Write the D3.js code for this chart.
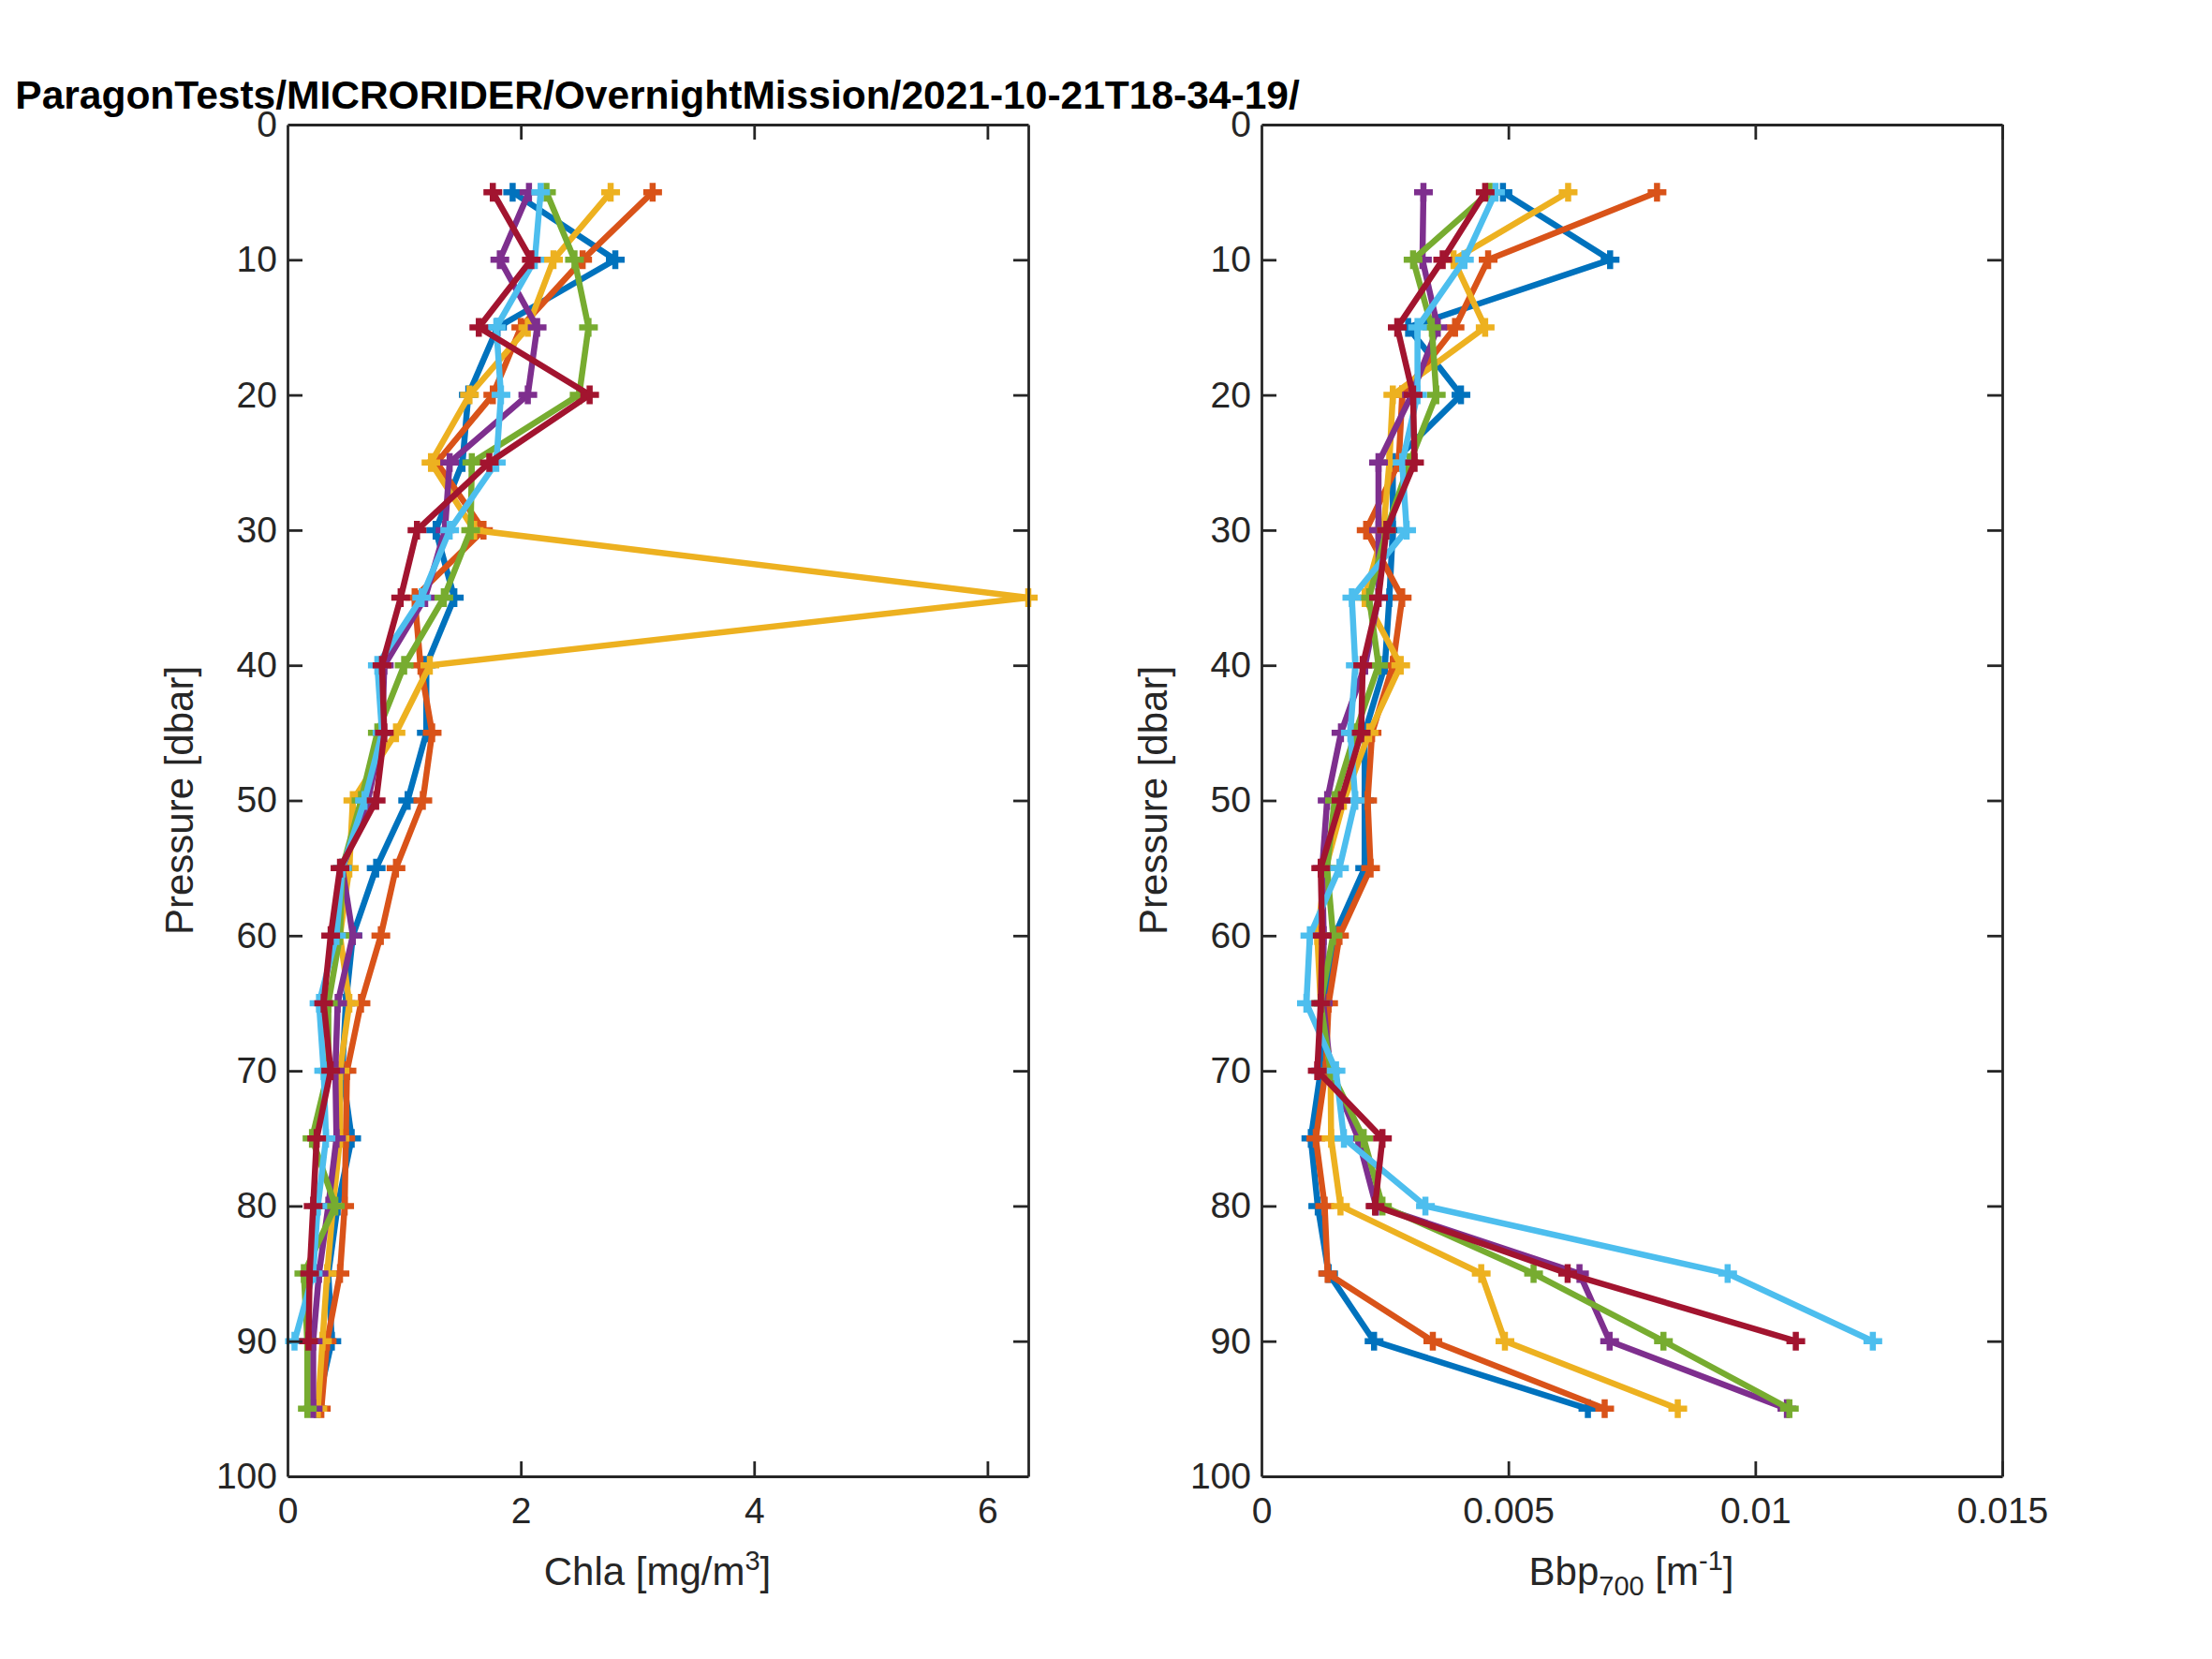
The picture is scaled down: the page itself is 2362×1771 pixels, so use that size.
<!DOCTYPE html>
<html>
<head>
<meta charset="utf-8">
<script src="https://cdn.jsdelivr.net/npm/d3@7"></script>
<style>
  body { margin: 0; background: #fff; }
  text { font-family: "Liberation Sans", Arial, Helvetica, sans-serif; fill: #262626; }
</style>
</head>
<body>
<div id="chart"></div>
<script>
// Pressure levels (dbar)
const depths = [5, 10, 15, 20, 25, 30, 35, 40, 45, 50, 55, 60, 65, 70, 75, 80, 85, 90, 95];

// Series colours (MATLAB default order)
const seriesColors = ["#0072BD", "#D95319", "#EDB120", "#7E2F8E", "#77AC30", "#4DBEEE", "#A2142F"];

// Chla [mg/m3] per profile
const chlaBlue     = [1.93, 2.81, 1.80, 1.55, 1.50, 1.27, 1.43, 1.19, 1.19, 1.03, 0.76, 0.56, 0.50, 0.47, 0.55, 0.43, 0.35, 0.38, 0.25];
const chlaOrange   = [3.13, 2.53, 2.00, 1.76, 1.28, 1.68, 1.09, 1.14, 1.24, 1.16, 0.93, 0.80, 0.63, 0.51, 0.50, 0.49, 0.45, 0.34, 0.29];
const chlaYellow   = [2.77, 2.28, 2.06, 1.56, 1.23, 1.60, 6.35, 1.22, 0.93, 0.56, 0.53, 0.45, 0.53, 0.45, 0.45, 0.39, 0.34, 0.30, 0.26];
const chlaPurple   = [2.07, 1.82, 2.14, 2.06, 1.39, 1.35, 1.18, 0.83, 0.81, 0.69, 0.47, 0.56, 0.43, 0.41, 0.42, 0.35, 0.27, 0.22, 0.22];
const chlaGreen    = [2.22, 2.46, 2.58, 2.50, 1.58, 1.57, 1.34, 1.00, 0.77, 0.63, 0.47, 0.45, 0.35, 0.35, 0.21, 0.41, 0.14, 0.17, 0.17];
const chlaLightBlue = [2.17, 2.12, 1.79, 1.83, 1.79, 1.39, 1.15, 0.77, 0.81, 0.66, 0.47, 0.42, 0.27, 0.31, 0.33, 0.26, 0.22, 0.06];
const chlaDarkRed  = [1.76, 2.09, 1.64, 2.59, 1.73, 1.11, 0.97, 0.81, 0.83, 0.76, 0.45, 0.37, 0.31, 0.37, 0.25, 0.22, 0.19, 0.18];

// Bbp700 [1/m] per profile
const bbpBlue      = [0.00489, 0.00706, 0.00297, 0.00404, 0.00266, 0.00266, 0.00259, 0.00250, 0.00209, 0.00209, 0.00209, 0.00148, 0.00125, 0.00120, 0.00100, 0.00114, 0.00136, 0.00228, 0.00661];
const bbpOrange    = [0.00801, 0.00459, 0.00392, 0.00285, 0.00278, 0.00212, 0.00285, 0.00266, 0.00224, 0.00215, 0.00221, 0.00158, 0.00136, 0.00130, 0.00110, 0.00128, 0.00134, 0.00347, 0.00695];
const bbpYellow    = [0.00621, 0.00389, 0.00453, 0.00266, 0.00259, 0.00247, 0.00209, 0.00282, 0.00218, 0.00167, 0.00130, 0.00113, 0.00120, 0.00140, 0.00141, 0.00160, 0.00445, 0.00493, 0.00843];
const bbpPurple    = [0.00328, 0.00326, 0.00357, 0.00304, 0.00237, 0.00237, 0.00237, 0.00210, 0.00161, 0.00133, 0.00123, 0.00126, 0.00125, 0.00140, 0.00196, 0.00232, 0.00644, 0.00705, 0.01064];
const bbpGreen     = [0.00462, 0.00307, 0.00345, 0.00354, 0.00300, 0.00253, 0.00218, 0.00237, 0.00190, 0.00148, 0.00133, 0.00145, 0.00120, 0.00140, 0.00207, 0.00245, 0.00551, 0.00814, 0.01069];
const bbpLightBlue = [0.00474, 0.00411, 0.00316, 0.00316, 0.00285, 0.00294, 0.00183, 0.00190, 0.00180, 0.00190, 0.00158, 0.00098, 0.00091, 0.00151, 0.00167, 0.00332, 0.00944, 0.01238];
const bbpDarkRed   = [0.00453, 0.00367, 0.00275, 0.00307, 0.00310, 0.00253, 0.00237, 0.00205, 0.00202, 0.00161, 0.00120, 0.00123, 0.00120, 0.00113, 0.00245, 0.00230, 0.00620, 0.01082];

const chlaSeries = [chlaBlue, chlaOrange, chlaYellow, chlaPurple, chlaGreen, chlaLightBlue, chlaDarkRed];
const bbpSeries = [bbpBlue, bbpOrange, bbpYellow, bbpPurple, bbpGreen, bbpLightBlue, bbpDarkRed];

// Tick values
const pressureTicks = [0, 10, 20, 30, 40, 50, 60, 70, 80, 90, 100];
const chlaTicks = [0, 2, 4, 6];
const bbpTicks = [0, 0.005, 0.01, 0.015];

const titleText = "ParagonTests/MICRORIDER/OvernightMission/2021-10-21T18-34-19/";

// Figure size
const W = 2362, H = 1771;
const plotTop = 133, plotBottom = 1576;
const axColor = "#262626";

const svg = d3.select("#chart")
  .append("svg")
    .attr("width", W)
    .attr("height", H);

svg.append("rect").attr("width", W).attr("height", H).attr("fill", "#fff");

const y = d3.scaleLinear()
  .domain([0, 100])
  .range([plotTop, plotBottom]);

function drawPanel(left, right, series, xDomain, xTicks, xFormat) {
  const x = d3.scaleLinear().domain(xDomain).range([left, right]);
  const g = svg.append("g");

  // Profiles: line then '+' markers, one series at a time
  series.forEach((vals, i) => {
    const pts = vals.map((v, k) => [v, depths[k]]);
    const line = d3.line().x(d => x(d[0])).y(d => y(d[1]));
    const s = g.append("g")
      .attr("stroke", seriesColors[i])
      .attr("fill", "none")
      .attr("stroke-width", 6.5);
    s.append("path")
      .attr("d", line(pts))
      .attr("stroke-linejoin", "round");
    s.selectAll("path.marker")
      .data(pts)
      .join("path")
        .attr("class", "marker")
        .attr("d", "M-10,0H10M0,-10V10")
        .attr("transform", d => `translate(${x(d[0])},${y(d[1])})`);
  });

  // Axes with inward ticks on all four sides (box on)
  const tick = 16;
  const axB = g.append("g")
    .attr("transform", `translate(0,${plotBottom})`)
    .call(d3.axisBottom(x).tickValues(xTicks).tickFormat(xFormat).tickSize(-tick).tickSizeOuter(0).tickPadding(22));
  const axT = g.append("g")
    .attr("transform", `translate(0,${plotTop})`)
    .call(d3.axisTop(x).tickValues(xTicks).tickFormat("").tickSize(-tick).tickSizeOuter(0));
  const axL = g.append("g")
    .attr("transform", `translate(${left},0)`)
    .call(d3.axisLeft(y).tickValues(pressureTicks).tickSize(-tick).tickSizeOuter(0).tickPadding(11));
  const axR = g.append("g")
    .attr("transform", `translate(${right},0)`)
    .call(d3.axisRight(y).tickValues(pressureTicks).tickFormat("").tickSize(-tick).tickSizeOuter(0));

  [axB, axT, axL, axR].forEach(a => {
    a.select(".domain").attr("stroke", axColor).attr("stroke-width", 2.8);
    a.selectAll(".tick line").attr("stroke", axColor).attr("stroke-width", 2.8);
    a.selectAll(".tick text")
      .attr("fill", axColor)
      .style("font-family", "'Liberation Sans', Arial, Helvetica, sans-serif")
      .style("font-size", "39px");
  });
  // hide ticks sitting on the box corners
  [axB, axT].forEach(a => a.selectAll(".tick line").filter(d => d === xDomain[0]).remove());
  [axL, axR].forEach(a => a.selectAll(".tick line").filter(d => d === 0 || d === 100).remove());

  // y label
  svg.append("text")
    .attr("transform", `translate(${left - 101},${(plotTop + plotBottom) / 2}) rotate(-90)`)
    .attr("text-anchor", "middle")
    .style("font-size", "42px")
    .text("Pressure [dbar]");

  return x;
}

const chlaMax = d3.max(chlaSeries, s => d3.max(s));
drawPanel(307, 1098, chlaSeries, [0, chlaMax], chlaTicks, d3.format("d"));
drawPanel(1347, 2138, bbpSeries, [0, 0.015], bbpTicks, d3.format("~g"));

// x labels with sub/superscripts
const xl1 = svg.append("text")
  .attr("x", 702).attr("y", 1692)
  .attr("text-anchor", "middle")
  .style("font-size", "42px");
xl1.append("tspan").text("Chla [mg/m");
xl1.append("tspan").attr("dy", -16).style("font-size", "29px").text("3");
xl1.append("tspan").attr("dy", 16).text("]");

const xl2 = svg.append("text")
  .attr("x", 1742).attr("y", 1692)
  .attr("text-anchor", "middle")
  .style("font-size", "42px");
xl2.append("tspan").text("Bbp");
xl2.append("tspan").attr("dy", 11).style("font-size", "29px").text("700");
xl2.append("tspan").attr("dy", -11).text(" [m");
xl2.append("tspan").attr("dy", -16).style("font-size", "29px").text("-1");
xl2.append("tspan").attr("dy", 16).text("]");

// Title
svg.append("text")
  .attr("x", 702).attr("y", 116)
  .attr("text-anchor", "middle")
  .style("font-size", "42.5px")
  .style("font-weight", "bold")
  .style("fill", "#000")
  .text(titleText);
</script>
</body>
</html>
